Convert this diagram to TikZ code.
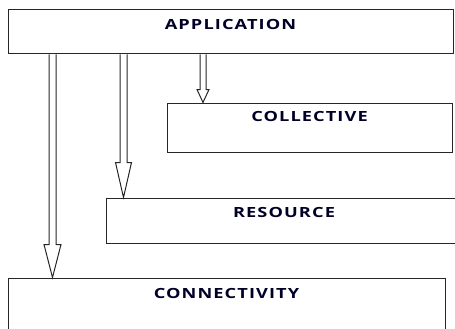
\documentclass[tikz,border=0pt]{standalone}
\usepackage{fontspec}
\usepackage{graphicx}
\setmainfont{Open Sans}
\newfontfamily\lblfont[LetterSpace=6]{Open Sans}
\newcommand\lbltext[1]{\scalebox{1.3}[1]{#1}}
\usetikzlibrary{calc}
\tikzset{
  layer/.style={draw=black!85, line width=1pt, rectangle, inner sep=0pt, anchor=center},
  lbl/.style={font=\lblfont\bfseries\fontsize{14}{16}\selectfont, text=black!85!blue, anchor=center, inner sep=0pt},
  arr/.style={draw=black!85, line width=1pt, line join=miter}
}
\newcommand\harrow[6]{% x, from, to, head length, shaft half, head half
  \path (#2.south -| #1,0) coordinate (s) (#3.north -| #1,0) coordinate (t);
  \draw[arr] ($(s)+(-#5,0)$) -- ($(t)+(-#5,-#4)$) -- ($(t)+(-#6,-#4)$) -- (t)
     -- ($(t)+(#6,-#4)$) -- ($(t)+(#5,-#4)$) -- ($(s)+(#5,0)$);
}
\begin{document}
\begin{tikzpicture}[x=1pt,y=-1pt]
\useasboundingbox (0,0) rectangle (455,329);
\begin{scope}
\clip (0,0) rectangle (455,329);
\node[layer, minimum width=445pt, minimum height=44pt] (app) at (230.5,32) {};
\node[layer, minimum width=285pt, minimum height=49pt] (col) at (309.5,127.5) {};
\node[layer, minimum width=356pt, minimum height=45pt] (res) at (284,220.5) {};
\node[layer, minimum width=437pt, minimum height=67pt] (con) at (226.5,311.5) {};
\node[lbl] (appt) at ($(app.north)+(0,14.5)$) {\lbltext{APPLICATION}};
\node[lbl] (colt) at ($(col.north)+(0,14)$) {\lbltext{COLLECTIVE}};
\node[lbl] (rest) at ($(res.north)+(0,15)$) {\lbltext{RESOURCE}};
\node[lbl] (cont) at ($(con.north)+(0,16)$) {\lbltext{CONNECTIVITY}};
\harrow{52.5}{app}{con}{33}{3.5}{8.5}
\harrow{123.5}{app}{res}{35}{3.5}{8}
\harrow{203}{app}{col}{13}{3}{6}
\end{scope}
\end{tikzpicture}
\end{document}
